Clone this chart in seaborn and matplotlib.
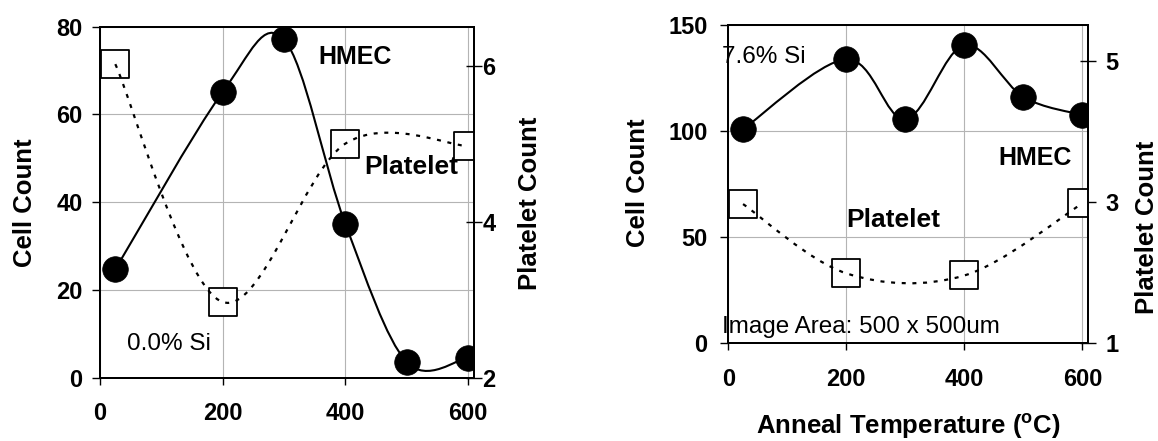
import numpy as np
import matplotlib
matplotlib.use("Agg")
import matplotlib.pyplot as plt
from matplotlib.path import Path
from matplotlib.patches import PathPatch
import seaborn as sns

# ---------------- data ----------------
temps_hmec_0 = [25, 200, 300, 400, 500, 600]
hmec_0 = [24.7, 65.1, 77.1, 35.1, 3.6, 4.6]
temps_plt_0 = [25, 200, 400, 600]
platelet_0 = [6.02, 2.97, 5.0, 4.97]

temps_hmec_76 = [25, 200, 300, 400, 500, 600]
hmec_76 = [101.0, 134.0, 105.7, 140.7, 116.2, 107.7]
temps_plt_76 = [25, 200, 400, 600]
platelet_76 = [2.97, 1.99, 1.96, 2.98]

x_ticks = [0, 200, 400, 600]
cell_ticks_0 = [0, 20, 40, 60, 80]
plt_ticks_0 = [2, 4, 6]
cell_ticks_76 = [0, 50, 100, 150]
plt_ticks_76 = [1, 3, 5]

# ---------------- style ----------------
sns.set_style("white")
plt.rcParams['font.family'] = ['Liberation Sans', 'DejaVu Sans']
plt.rcParams['mathtext.fontset'] = 'custom'
plt.rcParams['mathtext.rm'] = 'Liberation Sans'
plt.rcParams['mathtext.bf'] = 'Liberation Sans:bold'
for k in ('text.color', 'axes.labelcolor', 'xtick.color', 'ytick.color',
          'axes.edgecolor'):
    plt.rcParams[k] = 'black'

W, H = 1158, 441
fig = plt.figure(figsize=(W / 100, H / 100), dpi=100)

TICK_FS = 17
LABEL_FS = 18.5
ANN_FS = 17.5
ANN_BOLD_FS = 18


def smooth_path(x, y):
    """Excel-like smoothed line: cubic Bezier through the data points."""
    pts = np.column_stack([x, y]).astype(float)
    n = len(pts)
    verts = [pts[0]]
    codes = [Path.MOVETO]
    for i in range(n - 1):
        p0 = pts[i - 1] if i > 0 else pts[i]
        p1 = pts[i]
        p2 = pts[i + 1]
        p3 = pts[i + 2] if i + 2 < n else pts[i + 1]
        verts += [p1 + (p2 - p0) / 6.0, p2 - (p3 - p1) / 6.0, p2]
        codes += [Path.CURVE4] * 3
    return Path(verts, codes)


def panel(rect_px, th, hm, tp, pl, cell_lim, cell_ticks, plt_lim, plt_ticks,
          left_pad, right_pad):
    l, r, t, b = rect_px
    ax = fig.add_axes([l / W, 1 - b / H, (r - l) / W, (b - t) / H])
    ax.set_axisbelow(True)
    ax2 = ax.twinx()

    # HMEC (solid smoothed line + black circles)
    ax.add_patch(PathPatch(smooth_path(th, hm), fill=False, edgecolor='black',
                           lw=1.5, zorder=2))
    sns.scatterplot(x=th, y=hm, ax=ax, marker='o', s=340, color='black',
                    edgecolor='black', linewidth=0.5, zorder=3, legend=False)

    # Platelet (dotted smoothed line + open squares)
    sns.scatterplot(x=tp, y=pl, ax=ax2, marker='s', s=380, color='white',
                    edgecolor='black', linewidth=1.3, zorder=2, legend=False)
    ax2.add_patch(PathPatch(smooth_path(tp, pl), fill=False, edgecolor='black',
                            lw=1.6, linestyle=(0, (1.8, 3.0)), zorder=3))

    ax.set_xlim(0, 610)
    ax.set_ylim(*cell_lim)
    ax.set_yticks(cell_ticks)
    ax.set_xticks(x_ticks)
    ax2.set_ylim(*plt_lim)
    ax2.set_yticks(plt_ticks)

    ax.grid(True, color='#b4b4b4', lw=0.8)
    ax2.grid(False)
    for a in (ax, ax2):
        for s in a.spines.values():
            s.set_color('black')
            s.set_linewidth(1.4)
        a.set_xlabel('')
        a.set_ylabel('')

    ax.tick_params(axis='y', direction='out', length=6, width=1, colors='black',
                   labelsize=TICK_FS, pad=left_pad, left=True)
    ax.tick_params(axis='x', direction='out', length=5, width=1, colors='black',
                   labelsize=TICK_FS, pad=12.5, bottom=True)
    ax2.tick_params(axis='y', direction='inout', length=11, width=1,
                    colors='black', labelsize=TICK_FS, pad=right_pad, right=True)
    for lab in ax.get_xticklabels() + ax.get_yticklabels() + ax2.get_yticklabels():
        lab.set_fontweight('bold')
    return ax, ax2


# ---------------- left panel (0.0% Si) ----------------
axL, axL2 = panel((100, 474, 26.7, 377.7), temps_hmec_0, hmec_0, temps_plt_0,
                  platelet_0, (0, 80), cell_ticks_0, (2, 6.5), plt_ticks_0,
                  6.5, 0.5)
axL.text(416, 73.1, 'HMEC', ha='center', va='center', fontsize=ANN_BOLD_FS,
         fontweight='bold')
axL.text(508, 48.0, 'Platelet', ha='center', va='center', fontsize=ANN_BOLD_FS + 1,
         fontweight='bold')
axL.text(113, 7.7, '0.0% Si', ha='center', va='center', fontsize=ANN_FS)
axL.set_ylabel('Cell Count', fontsize=LABEL_FS, fontweight='bold')
axL.yaxis.set_label_coords(-0.2005, 0.5)
axL.yaxis.label.set_va('center')
axL2.set_ylabel('Platelet Count', fontsize=LABEL_FS, fontweight='bold')
axL2.yaxis.set_label_coords(1.150, 0.498)
axL2.yaxis.label.set_va('center')
axL2.yaxis.label.set_rotation(90)

# ---------------- right panel (7.6% Si) ----------------
axR, axR2 = panel((728.3, 1088.3, 25.3, 343.3), temps_hmec_76, hmec_76,
                  temps_plt_76, platelet_76, (0, 150), cell_ticks_76, (1, 5.5),
                  plt_ticks_76, 9, 7)
axR.text(-10.6, 135, '7.6% Si', ha='left', va='center', fontsize=ANN_FS)
axR.text(519.5, 87.4, 'HMEC', ha='center', va='center', fontsize=ANN_BOLD_FS,
         fontweight='bold')
axR.text(280, 58.2, 'Platelet', ha='center', va='center', fontsize=ANN_BOLD_FS + 1,
         fontweight='bold')
axR.text(-10.6, 7.7, 'Image Area: 500 x 500um', ha='left', va='center',
         fontsize=ANN_FS)
axR.set_ylabel('Cell Count', fontsize=LABEL_FS, fontweight='bold')
axR.yaxis.set_label_coords(-0.251, 0.504)
axR.yaxis.label.set_va('center')
axR2.set_ylabel('Platelet Count', fontsize=LABEL_FS, fontweight='bold')
axR2.yaxis.set_label_coords(1.163, 0.366)
axR2.yaxis.label.set_va('center')
axR2.yaxis.label.set_rotation(90)
axR.set_xlabel(r'Anneal Temperature ($\mathbf{^{o}}$C)', fontsize=LABEL_FS,
               fontweight='bold')
axR.xaxis.set_label_coords(0.5, -0.263)
axR.xaxis.label.set_va('center')

fig.savefig('out.png', dpi=100)
